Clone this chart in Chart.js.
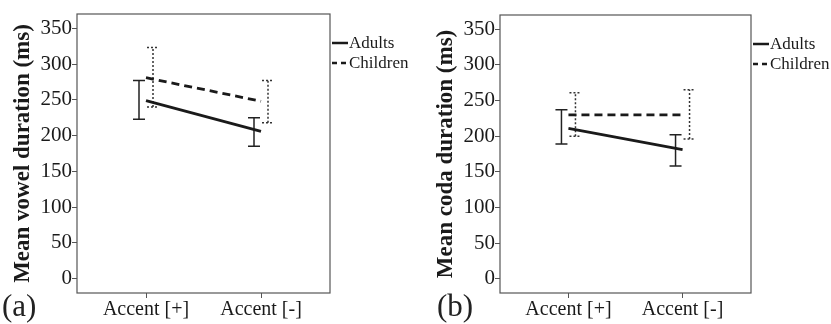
<!DOCTYPE html>
<html>
<head>
<meta charset="utf-8">
<script src="https://cdn.jsdelivr.net/npm/chart.js@4"></script>
<style>
    body { margin: 0; background: #fff; }
    #wrap { position: relative; width: 831px; height: 324px; overflow: hidden; }
    .panel { position: absolute; top: 0; }
    .panel-tag { position: absolute; font-family: "Liberation Serif", serif; font-size: 31px; color: #222; }
</style>
</head>
<body>
<div id="wrap">
    <div class="panel" style="left:0"><canvas id="vowelChart" width="420" height="324"></canvas></div>
    <div class="panel" style="left:423px"><canvas id="codaChart" width="408" height="324"></canvas></div>
    <div class="panel-tag" style="left:2px; top:288px">(a)</div>
    <div class="panel-tag" style="left:437px; top:288px">(b)</div>
</div>
<script>
// Categorias y valores
const categories = ['Accent [+]', 'Accent [-]'];
const yTicks = [0, 50, 100, 150, 200, 250, 300, 350];
const seriesLabels = ['Adults', 'Children'];

// (a) vowel duration
const vowelAdults = [249, 206];
const vowelAdultsLow = [223, 185];
const vowelAdultsHigh = [277, 225];
const vowelChildren = [281, 248];
const vowelChildrenLow = [240, 218];
const vowelChildrenHigh = [323, 277];

// (b) coda duration
const codaAdults = [211, 181];
const codaAdultsLow = [189, 158];
const codaAdultsHigh = [237, 202];
const codaChildren = [230, 230];
const codaChildrenLow = [200, 196];
const codaChildrenHigh = [261, 265];

const SERIF = '"Liberation Serif", "DejaVu Serif", serif';
const INK = '#1a1a1a';
const AXIS = '#555';

function toPoints(values) {
    return values.map((v, i) => ({ x: i, y: v }));
}

// Marco alrededor del area + leyenda a la derecha
const frameAndLegend = {
    id: 'frameAndLegend',
    afterDraw(chart) {
        const { ctx, chartArea } = chart;
        ctx.save();
        ctx.strokeStyle = AXIS;
        ctx.lineWidth = 1.2;
        ctx.strokeRect(chartArea.left, chartArea.top, chartArea.right - chartArea.left, chartArea.bottom - chartArea.top);

        const x0 = chartArea.right + 2;
        const y0 = chartArea.top + 29;
        chart.data.datasets.forEach((ds, i) => {
            const y = y0 + i * 20;
            ctx.strokeStyle = INK;
            ctx.lineWidth = 2.5;
            ctx.setLineDash(i === 0 ? [] : [5, 4]);
            ctx.beginPath();
            ctx.moveTo(x0, y);
            ctx.lineTo(x0 + 16, y);
            ctx.stroke();
            ctx.setLineDash([]);
            ctx.fillStyle = INK;
            ctx.font = '17px ' + SERIF;
            ctx.textBaseline = 'middle';
            ctx.fillText(ds.label, x0 + 17, y + 1);
        });
        ctx.restore();
    }
};

// Barras de error: adultos a la izquierda (solida), ninos a la derecha (punteada)
const errorBars = {
    id: 'errorBars',
    beforeDatasetsDraw(chart, args, opts) {
        const { ctx, scales } = chart;
        ctx.save();
        opts.bars.forEach(bar => {
            ctx.strokeStyle = bar.dotted ? '#333' : '#222';
            ctx.lineWidth = 1.5;
            ctx.setLineDash(bar.dotted ? [2, 2] : []);
            bar.low.forEach((lo, i) => {
                const x = scales.x.getPixelForValue(i) + bar.shift;
                const yLo = scales.y.getPixelForValue(lo);
                const yHi = scales.y.getPixelForValue(bar.high[i]);
                ctx.beginPath();
                ctx.moveTo(x, yLo);
                ctx.lineTo(x, yHi);
                ctx.moveTo(x - 6, yLo);
                ctx.lineTo(x + 6, yLo);
                ctx.moveTo(x - 6, yHi);
                ctx.lineTo(x + 6, yHi);
                ctx.stroke();
            });
        });
        ctx.restore();
    }
};

function crearPanel(canvasId, title, adults, adultsLow, adultsHigh, children, childrenLow, childrenHigh, rightPad, topPad) {
    const ctx = document.getElementById(canvasId);
    return new Chart(ctx, {
        type: 'line',
        data: {
            datasets: [
                { label: seriesLabels[0], data: toPoints(adults), borderColor: INK, borderWidth: 2.8, pointRadius: 0 },
                { label: seriesLabels[1], data: toPoints(children), borderColor: INK, borderWidth: 2.8, borderDash: [8, 5], pointRadius: 0 }
            ]
        },
        options: {
            responsive: false,
            animation: false,
            layout: { padding: { top: topPad, right: rightPad, left: 0, bottom: 0 } },
            plugins: {
                legend: { display: false },
                tooltip: { enabled: false },
                errorBars: {
                    bars: [
                        { low: adultsLow, high: adultsHigh, shift: -7, dotted: false },
                        { low: childrenLow, high: childrenHigh, shift: 7, dotted: true }
                    ]
                }
            },
            scales: {
                x: {
                    type: 'linear',
                    min: -0.6,
                    max: 1.6,
                    afterBuildTicks: scale => { scale.ticks = categories.map((c, i) => ({ value: i })); },
                    afterFit: scale => { scale.height = 31; },
                    ticks: {
                        callback: value => categories[value],
                        color: INK,
                        padding: 0,
                        maxRotation: 0,
                        font: { family: SERIF, size: 20 }
                    },
                    grid: { drawOnChartArea: false, tickLength: 5, color: AXIS },
                    border: { display: false }
                },
                y: {
                    min: -20,
                    max: 370,
                    afterBuildTicks: scale => { scale.ticks = yTicks.map(v => ({ value: v })); },
                    afterFit: scale => { scale.width = 77; },
                    ticks: {
                        color: INK,
                        padding: 0,
                        font: { family: SERIF, size: 21 }
                    },
                    grid: { drawOnChartArea: false, tickLength: 5, color: AXIS },
                    border: { display: false },
                    title: {
                        display: true,
                        text: title,
                        color: INK,
                        padding: { top: 9, bottom: 0 },
                        font: { family: SERIF, size: 23, weight: 'bold' }
                    }
                }
            }
        },
        plugins: [errorBars, frameAndLegend]
    });
}

crearPanel('vowelChart', 'Mean vowel duration (ms)', vowelAdults, vowelAdultsLow, vowelAdultsHigh,
    vowelChildren, vowelChildrenLow, vowelChildrenHigh, 90, 14);
crearPanel('codaChart', 'Mean coda duration (ms)', codaAdults, codaAdultsLow, codaAdultsHigh,
    codaChildren, codaChildrenLow, codaChildrenHigh, 80, 15);
</script>
</body>
</html>
